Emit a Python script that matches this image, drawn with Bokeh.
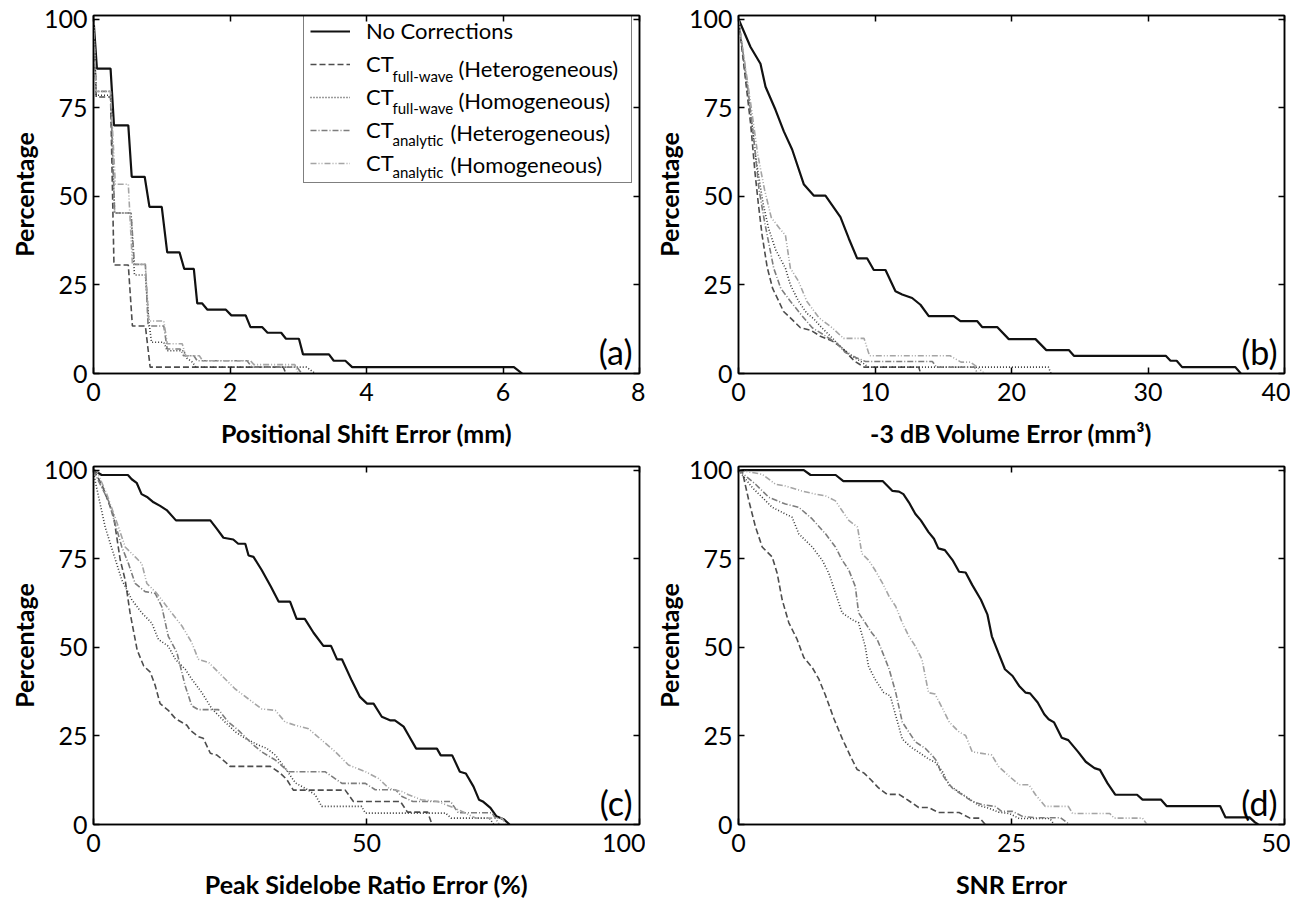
from bokeh.plotting import figure
from bokeh.models import Range1d, LinearAxis, FixedTicker, Legend, LegendItem, Label
from bokeh.layouts import column, row
from bokeh.embed import file_html
from bokeh.resources import INLINE

# ---------------- data ----------------
Y_TICKS = [0, 25, 50, 75, 100]

LEGEND_MAIN = ["No Corrections", "CT", "CT", "CT", "CT"]
LEGEND_SUB = [None, "full-wave", "full-wave", "analytic", "analytic"]
LEGEND_SUFFIX = [None, "(Heterogeneous)", "(Homogeneous)", "(Heterogeneous)", "(Homogeneous)"]

# (a) Positional shift error (mm)
a_ticks = [0, 2, 4, 6, 8]
a_none_x = [0, 0.05, 0.25, 0.30, 0.51, 0.56, 0.75, 0.82, 1.00, 1.08, 1.26, 1.33, 1.47, 1.52, 1.59, 1.67,
            1.94, 2.02, 2.23, 2.30, 2.47, 2.55, 2.75, 2.82, 3.01, 3.07, 3.45, 3.52, 3.69, 3.79, 6.16, 6.28]
a_none_y = [100, 86, 86, 70, 70, 55.5, 55.5, 47, 47, 34.2, 34.2, 29.5, 29.5, 19.8, 19.8, 18,
            18, 16.4, 16.4, 13.1, 13.1, 11.5, 11.5, 9.8, 9.8, 5.4, 5.4, 3.6, 3.6, 1.8, 1.8, 0]
a_fwhet_x = [0, 0.04, 0.25, 0.30, 0.51, 0.57, 0.76, 0.83, 2.78, 2.82]
a_fwhet_y = [100, 78, 78, 30.6, 30.6, 13.4, 13.4, 1.8, 1.8, 0]
a_fwhom_x = [0, 0.04, 0.25, 0.31, 0.55, 0.60, 0.76, 0.81, 0.85, 1.03, 1.08, 1.32, 1.37, 1.45, 1.50, 3.12, 3.25]
a_fwhom_y = [100, 78.5, 78.5, 45.3, 45.3, 27.8, 27.8, 14.8, 8.8, 8.8, 6.4, 6.4, 4.3, 3.2, 1.8, 1.8, 0]
a_anhet_x = [0, 0.04, 0.25, 0.31, 0.55, 0.60, 0.76, 0.80, 1.03, 1.08, 1.27, 1.32, 1.47, 1.52, 2.25, 2.32, 2.98, 3.05]
a_anhet_y = [100, 79.6, 79.6, 45.3, 45.3, 30.8, 30.8, 13.4, 13.4, 6.9, 6.9, 5.0, 5.0, 3.6, 3.6, 1.8, 1.8, 0]
a_anhom_x = [0, 0.04, 0.25, 0.32, 0.51, 0.57, 0.76, 0.81, 1.03, 1.08, 1.30, 1.35, 1.55, 1.60, 2.30, 2.35, 2.95, 3.0]
a_anhom_y = [100, 79.6, 79.6, 53.4, 53.4, 30.8, 30.8, 14.8, 14.8, 8.4, 8.4, 5.0, 5.0, 3.6, 3.6, 2.5, 2.5, 0]

# (b) -3 dB volume error (mm^3)
b_ticks = [0, 10, 20, 30, 40]
b_none_x = [0, 0.88, 1.61, 1.98, 2.71, 3.32, 3.93, 4.78, 5.51, 6.37, 7.47, 8.08, 8.69, 9.42, 9.91, 10.77,
            11.5, 11.99, 12.72, 13.33, 13.94, 15.77, 16.26, 17.48, 17.85, 18.95, 19.8, 21.76, 22.55, 24.2,
            24.57, 31.3, 31.65, 32.1, 32.5, 36.4, 36.8]
b_none_y = [100, 92.1, 87.4, 80.9, 74.4, 68.3, 63.2, 53.4, 50.2, 50.2, 44.1, 38.1, 32.5, 32.5, 29.2, 29.2,
            23.2, 22.3, 21.3, 19.4, 16.2, 16.2, 14.8, 14.8, 13.1, 13.1, 9.7, 9.7, 6.6, 6.6,
            5.0, 5.0, 3.6, 3.6, 1.8, 1.8, 0]
b_fwhet_x = [0, 0.3, 0.6, 0.9, 1.2, 1.45, 1.73, 2.1, 2.5, 2.95, 3.3, 3.8, 4.54, 5.3, 6.0, 6.86, 7.5, 8.0,
             8.5, 9.2, 13.2, 13.35]
b_fwhet_y = [100, 90, 80, 70, 57, 48, 39, 30, 24, 20.4, 17.5, 15.7, 12.9, 12.2, 10.5, 9.2, 7.5, 5.5,
             3.5, 1.8, 1.8, 0]
b_fwhom_x = [0, 0.4, 0.8, 1.3, 1.8, 2.2, 2.71, 3.44, 3.8, 4.4, 5.0, 5.5, 6.1, 6.9, 7.5, 8.3, 9.0, 9.5, 22.7, 22.9]
b_fwhom_y = [100, 88, 76, 60, 48, 41, 35, 29.7, 25, 20.4, 17, 15.5, 12.9, 9.9, 7.5, 5, 3.3, 1.8, 1.8, 0]
b_anhet_x = [0, 0.35, 0.7, 1.1, 1.5, 1.9, 2.58, 3.1, 3.8, 4.5, 5.4, 6.2, 7.2, 7.8, 8.6, 9.3, 14.2, 14.5, 17.3, 17.5]
b_anhet_y = [100, 90, 80, 67, 52, 43, 29.7, 24, 20.4, 17, 12.9, 11, 8.5, 6, 4.5, 3.4, 3.4, 1.8, 1.8, 0]
b_anhom_x = [0, 0.45, 0.9, 1.4, 1.9, 2.4, 3.0, 3.44, 3.8, 4.4, 5.0, 5.9, 6.86, 7.7, 9.2, 9.6, 15.5, 16.3,
             17.0, 17.5, 18.0]
b_anhom_y = [100, 88, 76, 62, 52, 44, 41, 39, 29.7, 26, 20.4, 15.7, 12.9, 9.9, 9.9, 5.0, 5.0, 3.2,
             3.2, 1.8, 0]

# (c) Peak sidelobe ratio error (%)
c_ticks = [0, 50, 100]
c_none_x = [0, 1.5, 6.3, 7.0, 7.9, 8.8, 9.9, 11.0, 12.2, 13.4, 15.1, 21.4, 22.6, 23.8, 25.6, 26.5, 27.8,
            28.4, 29.3, 30.8, 32.5, 33.9, 36.0, 37.2, 38.7, 40.3, 42.1, 43.5, 44.6, 45.5, 47.3, 48.8, 50.1,
            51.3, 52.8, 54.3, 55.2, 56.8, 57.7, 59.1, 62.9, 63.6, 65.7, 67.1, 68.2, 69.6, 70.6, 71.3, 72.7,
            73.8, 75.2, 76.2]
c_none_y = [100, 98.6, 98.6, 97.4, 96.4, 93.2, 92.3, 90.9, 89.9, 88.7, 85.8, 85.8, 83.4, 80.9, 80.4, 79.2,
            79.2, 75.9, 75.5, 71.8, 67.1, 62.9, 62.9, 58.0, 58.0, 54.1, 50.4, 50.4, 46.6, 46.6, 40.6, 36.0,
            34.1, 34.1, 30.4, 29.4, 29.4, 27.6, 25.2, 21.4, 21.4, 19.5, 19.5, 14.9, 14.4, 10.7, 7.0, 6.5,
            4.7, 2.3, 1.4, 0]
c_fwhet_x = [0, 1.5, 3.66, 4.9, 5.8, 6.7, 8.0, 9.2, 10.4, 11.3, 12.2, 13.7, 15.0, 17.1, 17.7, 19.2, 20.1,
             21.4, 22.6, 24.1, 25.0, 32.4, 34.2, 35.4, 36.6, 46.1, 47.6, 56.2, 57.5, 61.2, 62.0]
c_fwhet_y = [100, 96, 87.2, 74.6, 69.0, 59.7, 49.2, 44.7, 43.0, 39.2, 34.1, 32.2, 29.9, 28.0, 26.6, 24.8,
             24.3, 20.1, 19.6, 17.7, 16.4, 16.4, 14.5, 12.7, 9.7, 9.7, 6.5, 6.5, 3.5, 3.5, 0]
c_fwhom_x = [0, 0.31, 2.14, 3.66, 5.19, 7.02, 8.85, 10.68, 11.9, 13.7, 15.0, 16.8, 18.0, 19.8, 21.7, 24.1,
             26.0, 27.8, 30.2, 31.7, 33.3, 35.1, 37.0, 38.8, 40.6, 41.8, 49.1, 49.8, 64.5, 65.5, 72.5, 73.3]
c_fwhom_y = [100, 96.9, 83.9, 76.4, 69.0, 63.4, 59.7, 56.8, 52.2, 50.3, 46.6, 43.8, 41.0, 37.3, 32.6, 28.9,
             26.1, 24.3, 22.4, 21.5, 19.6, 15.9, 11.7, 10.2, 8.4, 5.1, 5.1, 3.2, 3.2, 1.8, 1.8, 0]
c_anhet_x = [0, 0.31, 2.75, 5.19, 6.41, 7.63, 9.46, 11.3, 12.5, 13.7, 15.3, 16.8, 18.0, 19.2, 22.9, 24.7,
             26.6, 29.0, 30.8, 33.3, 35.7, 42.4, 45.5, 49.8, 51.6, 55.3, 56.5, 58.5, 65.4, 66.8, 73.0, 74.3]
c_anhet_y = [100, 98.8, 91.3, 78.3, 73.6, 68.0, 65.7, 65.2, 61.5, 53.1, 48.4, 39.1, 33.5, 32.4, 32.4, 28.9,
             26.5, 22.8, 20.5, 18.2, 14.9, 14.9, 11.6, 11.6, 9.8, 9.8, 7.9, 6.5, 6.5, 3.3, 3.3, 0]
c_anhom_x = [0, 0.61, 2.44, 4.58, 5.8, 7.63, 8.85, 9.77, 11.3, 12.5, 14.3, 16.2, 18.0, 19.2, 21.1, 23.5,
             25.9, 28.4, 30.8, 33.3, 35.1, 37.0, 39.4, 41.8, 44.3, 46.7, 49.8, 52.2, 54.1, 56.5, 57.7, 60.0,
             63.0, 66.0, 68.0, 70.0, 74.8, 75.6]
c_anhom_y = [100, 99.7, 93.2, 83.9, 78.3, 75.5, 73.6, 68.0, 65.7, 63.4, 59.7, 56.0, 51.3, 46.6, 45.7, 42.0,
             38.3, 35.4, 32.6, 32.2, 28.9, 28.0, 27.0, 23.8, 20.5, 16.8, 14.9, 13.0, 10.2, 9.3, 8.4, 7.0,
             6.5, 4.7, 3.3, 1.8, 1.8, 0]

# (d) SNR error
d_ticks = [0, 25, 50]
d_none_x = [0, 5.98, 6.6, 8.9, 9.6, 13.2, 14.1, 14.7, 15.1, 15.6, 16.2, 16.7, 17.4, 17.9, 18.3, 18.9, 19.6,
            20.2, 20.8, 21.4, 22.2, 22.8, 23.2, 23.8, 24.4, 25.1, 25.7, 26.3, 26.7, 27.4, 28.0, 28.4, 28.9,
            29.6, 30.2, 31.1, 31.8, 32.6, 33.1, 33.8, 34.5, 36.5, 37.0, 38.7, 39.2, 44.1, 44.6, 46.8, 47.3, 47.6]
d_none_y = [100, 100, 98.6, 98.6, 96.9, 96.9, 94.1, 93.9, 93.2, 90.9, 87.6, 85.8, 82.5, 80.6, 77.9, 77.4,
            74.6, 71.3, 71.1, 67.6, 63.4, 59.2, 53.1, 48.4, 43.8, 41.9, 39.1, 37.2, 37.0, 34.4, 31.1, 29.7,
            28.8, 24.5, 23.8, 20.5, 17.7, 15.9, 15.4, 11.6, 8.4, 8.4, 7.0, 7.0, 5.2, 5.2, 2.0, 2.0, 0.6, 0]
d_fwhet_x = [0, 0.34, 0.95, 1.56, 2.17, 3.08, 3.54, 4.0, 4.61, 5.37, 5.98, 6.75, 7.36, 7.97, 8.73, 9.49,
             10.26, 10.87, 11.5, 12.1, 12.8, 13.6, 14.7, 15.6, 16.5, 17.4, 18.3, 20.2, 21.2, 22.1, 22.6]
d_fwhet_y = [100, 99.7, 91.3, 83.9, 78.3, 75.5, 70.9, 63.4, 56.9, 52.2, 47.1, 44.3, 41.0, 36.4, 29.9, 24.3,
             19.2, 15.5, 14.5, 12.7, 10.4, 8.5, 8.5, 6.7, 4.8, 4.8, 3.4, 3.4, 1.8, 1.8, 0]
d_fwhom_x = [0, 1.25, 2.17, 3.08, 4.3, 4.91, 5.52, 6.75, 7.66, 8.27, 8.88, 9.49, 10.4, 11.0, 11.6, 11.9,
             12.5, 13.3, 13.9, 14.4, 15.0, 15.8, 16.5, 17.4, 18.0, 18.7, 19.3, 20.2, 21.1, 22.0, 23.0, 23.8,
             24.8, 25.7, 28.5, 28.9]
d_fwhom_y = [100, 95.1, 92.3, 89.5, 87.6, 86.7, 82.0, 78.3, 74.6, 70.9, 65.3, 59.7, 57.8, 56.9, 50.3, 44.7,
             41.0, 37.2, 36.3, 30.7, 24.1, 21.8, 20.4, 18.5, 17.6, 14.8, 11.0, 9.2, 7.3, 5.4, 4.5, 3.5,
             3.1, 1.7, 1.7, 0]
d_anhet_x = [0, 1.56, 2.78, 4.3, 5.52, 6.75, 7.97, 8.88, 9.49, 10.1, 10.7, 11.0, 11.6, 12.2, 12.7, 13.2,
             13.8, 14.4, 15.0, 15.6, 16.2, 17.1, 17.7, 18.2, 18.5, 18.9, 19.6, 20.5, 21.4, 22.3, 23.5, 24.1,
             25.1, 26.0, 27.2, 29.5, 30.3]
d_anhet_y = [100, 96.0, 92.3, 90.4, 89.5, 86.2, 82.0, 78.3, 74.6, 71.8, 67.1, 59.7, 56.9, 54.1, 52.2, 48.5,
             43.8, 37.2, 28.9, 26.1, 23.3, 21.5, 19.6, 17.7, 14.9, 13.0, 10.2, 8.4, 6.5, 5.6, 5.1, 3.7,
             3.7, 2.3, 1.9, 1.9, 0]
d_anhom_x = [0, 2.17, 3.39, 4.3, 5.8, 7.05, 7.97, 8.88, 9.49, 10.1, 10.9, 11.3, 11.9, 12.5, 13.2, 13.8,
             14.4, 15.0, 15.6, 16.2, 16.8, 17.4, 18.0, 18.7, 19.3, 20.2, 20.8, 21.4, 23.2, 23.8, 24.8, 25.7,
             26.6, 27.2, 28.1, 30.2, 30.6, 34.0, 34.4, 37.0, 37.4]
d_anhom_y = [100, 98.8, 96.0, 95.5, 94.1, 93.2, 92.7, 91.3, 88.5, 85.8, 83.9, 76.4, 74.6, 71.8, 68.0, 64.3,
             61.5, 56.9, 53.1, 50.3, 46.6, 37.2, 36.8, 32.6, 28.9, 26.1, 25.1, 20.5, 19.6, 16.4, 13.6, 11.2,
             11.2, 8.4, 5.1, 5.1, 3.1, 3.1, 1.8, 1.8, 0]

# ---------------- styling / layout ----------------
FONT = "Lato"
FW, FH = 546, 358
BL, BR = 93, 6
YMAX = 101
TICK_FS = "25px"
TITLE_FS = "25px"

STYLES = [
    dict(line_color="#111111", line_width=2.2, line_dash="solid"),
    dict(line_color="#4d4d4d", line_width=1.6, line_dash="6 3"),
    dict(line_color="#3a3a3a", line_width=1.6, line_dash="1 2"),
    dict(line_color="#7d7d7d", line_width=1.6, line_dash="6 2 1 2"),
    dict(line_color="#a5a5a5", line_width=1.6, line_dash="6 2 1 2 1 2"),
]


def style_axis(ax, show_labels):
    ax.major_tick_in = 6
    ax.major_tick_out = 0
    ax.minor_tick_line_color = None
    ax.axis_line_color = "black"
    ax.axis_line_width = 1.5
    ax.major_tick_line_color = "black"
    ax.major_tick_line_width = 1.5
    if show_labels:
        ax.major_label_text_font = FONT
        ax.major_label_text_font_size = TICK_FS
        ax.major_label_text_color = "black"
        ax.axis_label_text_font = FONT
        ax.axis_label_text_font_style = "bold"
        ax.axis_label_text_font_size = TITLE_FS
        ax.axis_label_text_color = "black"
    else:
        ax.major_label_text_font_size = "0px"
        ax.major_label_text_color = None
        ax.major_label_standoff = 0
        ax.axis_label = None


def panel(xmax, xticks, xlabel, tag, xs, ys, top, bottom):
    p = figure(frame_width=FW, frame_height=FH, x_range=Range1d(0, xmax), y_range=Range1d(0, YMAX),
               output_backend="svg", toolbar_location=None,
               min_border_left=BL, min_border_right=BR, min_border_top=top, min_border_bottom=bottom,
               background_fill_color="white", border_fill_color="white")
    p.grid.visible = False
    p.outline_line_color = "black"
    p.outline_line_width = 1.5
    xa = p.xaxis[0]
    ya = p.yaxis[0]
    xa.ticker = FixedTicker(ticks=xticks)
    ya.ticker = FixedTicker(ticks=Y_TICKS)
    xa.axis_label = xlabel
    ya.axis_label = "Percentage"
    style_axis(xa, True)
    style_axis(ya, True)
    xa.major_label_standoff = 9
    xa.axis_label_standoff = 14
    ya.major_label_standoff = 6
    ya.axis_label_standoff = 2
    top_ax = LinearAxis(ticker=FixedTicker(ticks=xticks))
    style_axis(top_ax, False)
    p.add_layout(top_ax, "above")
    right_ax = LinearAxis(ticker=FixedTicker(ticks=Y_TICKS))
    style_axis(right_ax, False)
    p.add_layout(right_ax, "right")
    rends = []
    for x, y, st in zip(xs, ys, STYLES):
        rends.append(p.line(x, y, **st))
    p.add_layout(Label(x=xmax * (1 - 7 / FW), y=0.5, text=tag, text_align="right",
                       text_baseline="bottom", text_font=FONT, text_font_size="34px",
                       text_color="black", level="overlay"))
    return p, rends


pa, ra = panel(8, a_ticks, "Positional Shift Error (mm)", "(a)",
               [a_none_x, a_fwhet_x, a_fwhom_x, a_anhet_x, a_anhom_x],
               [a_none_y, a_fwhet_y, a_fwhom_y, a_anhet_y, a_anhom_y], 15, 76)
pb, _ = panel(40, b_ticks, "-3 dB Volume Error (mm³)", "(b)",
              [b_none_x, b_fwhet_x, b_fwhom_x, b_anhet_x, b_anhom_x],
              [b_none_y, b_fwhet_y, b_fwhom_y, b_anhet_y, b_anhom_y], 15, 76)
pc, _ = panel(100, c_ticks, "Peak Sidelobe Ratio Error (%)", "(c)",
              [c_none_x, c_fwhet_x, c_fwhom_x, c_anhet_x, c_anhom_x],
              [c_none_y, c_fwhet_y, c_fwhom_y, c_anhet_y, c_anhom_y], 16, 74)
pd, _ = panel(50, d_ticks, "SNR Error", "(d)",
              [d_none_x, d_fwhet_x, d_fwhom_x, d_anhet_x, d_anhom_x],
              [d_none_y, d_fwhet_y, d_fwhom_y, d_anhet_y, d_anhom_y], 16, 74)

# ---------------- legend in panel (a) ----------------
LEG_X, LEG_Y = 210, 190          # offset of the legend box from the frame's bottom-left (px)
PAD, SPACING, ROW_H = 6, 6, 26
GLYPH_W, STANDOFF = 40, 16
LABEL_W = 259
legend = Legend(items=[LegendItem(label=LEGEND_MAIN[i], renderers=[ra[i]]) for i in range(5)],
                location=(LEG_X, LEG_Y), orientation="vertical", padding=PAD, spacing=SPACING, margin=0,
                glyph_width=GLYPH_W, glyph_height=ROW_H, label_height=ROW_H, label_width=LABEL_W,
                label_standoff=STANDOFF, label_text_font=FONT, label_text_font_size="22px",
                label_text_color="black", border_line_color="black", border_line_width=1.5,
                background_fill_color="white", background_fill_alpha=0.0)
pa.add_layout(legend)

leg_h = 2 * PAD + 5 * ROW_H + 4 * SPACING
leg_top_from_bottom = LEG_Y + leg_h
text_left_px = LEG_X + PAD + GLYPH_W + STANDOFF   # px from frame left
ct_w = 27
sub_gap = {"full-wave": 66, "analytic": 58}
px_x = 8 / FW
px_y = YMAX / FH
for i in range(1, 5):
    row_center = leg_top_from_bottom - PAD - ROW_H / 2 - i * (ROW_H + SPACING)
    sub_x = text_left_px + ct_w
    pa.add_layout(Label(x=sub_x * px_x, y=(row_center - 7) * px_y, text=LEGEND_SUB[i],
                        text_align="left", text_baseline="middle", text_font=FONT,
                        text_font_size="15px", text_color="black", level="overlay"))
    suf_x = sub_x + sub_gap[LEGEND_SUB[i]]
    pa.add_layout(Label(x=suf_x * px_x, y=row_center * px_y, text=LEGEND_SUFFIX[i],
                        text_align="left", text_baseline="middle", text_font=FONT,
                        text_font_size="22px", text_color="black", level="overlay"))

layout = column(row(pa, pb), row(pc, pd))
open("out.html", "w").write(file_html(layout, INLINE))
